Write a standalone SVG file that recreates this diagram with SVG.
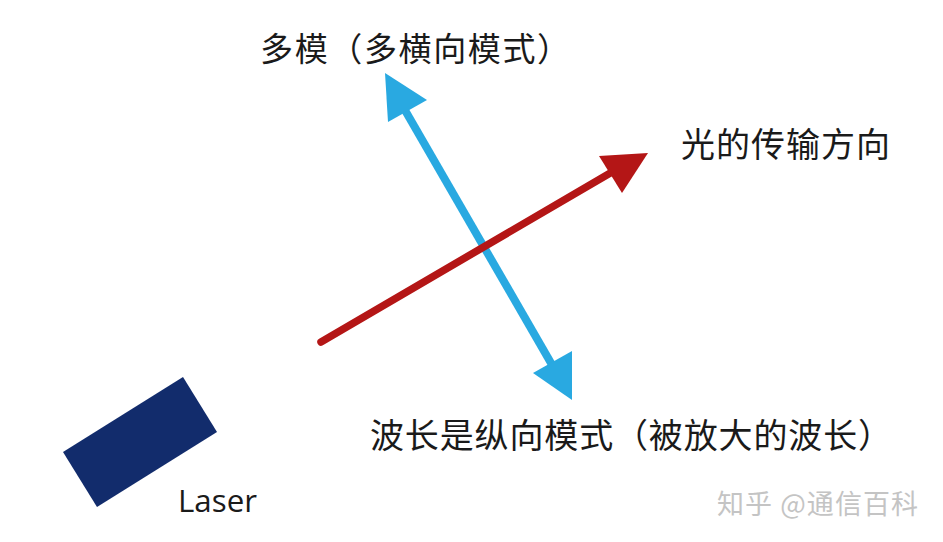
<svg xmlns="http://www.w3.org/2000/svg" width="943" height="542" viewBox="0 0 943 542">
<style>
.t{font-family:"Noto Sans CJK SC","Noto Sans",sans-serif;fill:#1a1a1a}
.blue{stroke:#29a9e1;stroke-width:8;fill:none}
.red{stroke:#b41616;stroke-width:7.5;fill:none;stroke-linecap:round}
</style>
<rect width="943" height="542" fill="#ffffff"/>
<g id="connectors">
<line class="blue" x1="402" y1="105" x2="555" y2="370"/>
<polygon points="385,73 427,100 388,122" fill="#29a9e1"/>
<polygon points="572,400 533,373 572,351" fill="#29a9e1"/>
<line class="red" x1="321" y1="342" x2="612" y2="172"/>
<polygon points="648,153 599,156 622,193" fill="#b41616"/>
</g>
<g id="laser">
<polygon points="183,377 217,432 97,507 63,452" fill="#122c6c"/>
<text x="178" y="512" font-family="'Open Sans','Liberation Sans',sans-serif" font-size="31" fill="#1a1a1a" textLength="79" lengthAdjust="spacingAndGlyphs">Laser</text>
</g>
<g id="multimode">
<text class="t" x="260" y="61" font-size="33" textLength="310">多模（多横向模式）</text>
</g>
<g id="direction">
<text class="t" x="681" y="157" font-size="34" textLength="209">光的传输方向</text>
</g>
<g id="wavelength">
<text class="t" x="370" y="448" font-size="34" textLength="522">波长是纵向模式（被放大的波长）</text>
</g>
<g id="watermark">
<text x="717" y="514" font-family="'Noto Sans CJK SC',sans-serif" font-size="27" fill="#c4c4c4" textLength="201">知乎 @通信百科</text>
</g>
</svg>
